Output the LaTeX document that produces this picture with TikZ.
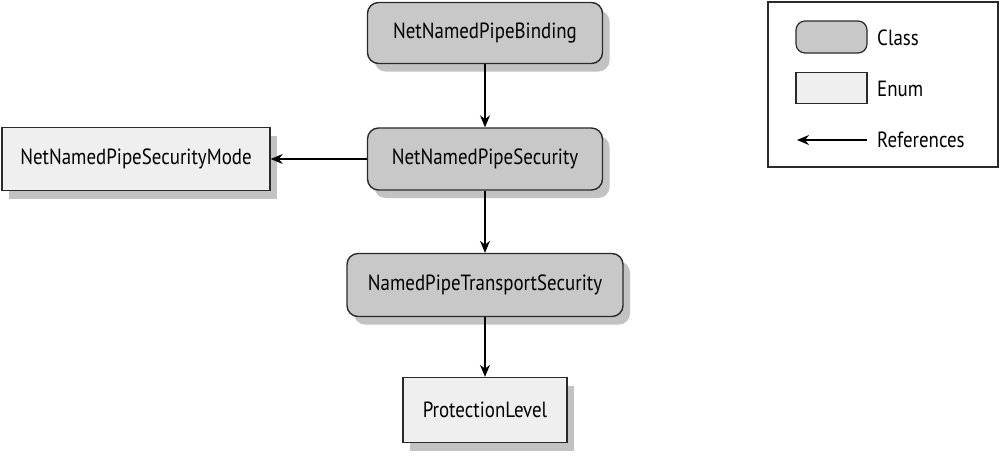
\documentclass[tikz,border=0pt]{standalone}
\usepackage{fontspec}
\setmainfont{PT Sans}[FakeStretch=0.86]
\usetikzlibrary{arrows.meta,shadows,shapes.misc}
\definecolor{classfill}{HTML}{C8C8C8}
\definecolor{enumfill}{HTML}{EFEFEF}
\definecolor{edge}{HTML}{2A2A2A}
\tikzset{
  base/.style={draw=edge, line width=1.4pt, font=\fontsize{22}{26}\selectfont, inner sep=0pt,
    drop shadow={shadow xshift=7pt, shadow yshift=-8pt, opacity=0.4, fill=black!60}},
  classbox/.style={base, fill=classfill, rounded corners=11pt},
  enumbox/.style={base, fill=enumfill},
  ref/.style={-{Stealth[length=12pt,width=10pt]}, line width=1.1pt, black},
  lab/.style={font=\fontsize{22}{26}\selectfont, anchor=west, inner sep=0pt},
}
\begin{document}
\begin{tikzpicture}[x=1pt,y=-1pt]
\useasboundingbox (0,0) rectangle (1000,459);
\node[classbox, minimum width=235pt, minimum height=61pt] (bind) at (485,33) {NetNamedPipeBinding};
\node[classbox, minimum width=235pt, minimum height=62pt] (sec) at (485,159) {NetNamedPipeSecurity};
\node[enumbox, minimum width=268pt, minimum height=63pt] (mode) at (136,159) {NetNamedPipeSecurityMode};
\node[classbox, minimum width=276pt, minimum height=63pt] (trans) at (485,285) {NamedPipeTransportSecurity};
\node[enumbox, minimum width=164pt, minimum height=65pt] (prot) at (485,410) {ProtectionLevel};
\draw[ref] (bind) -- (sec);
\draw[ref] (sec) -- (mode);
\draw[ref] (sec) -- (trans);
\draw[ref] (trans) -- (prot);
% legend
\node[draw=edge, line width=1.2pt, minimum width=230pt, minimum height=165pt, inner sep=0pt] (legend) at (883,84.5) {};
\node[draw=edge, line width=1.2pt, fill=classfill, rounded corners=9pt, minimum width=71pt, minimum height=32pt, inner sep=0pt] (lclass) at (831.5,37) {};
\node[draw=edge, line width=1.2pt, fill=enumfill, minimum width=71pt, minimum height=31pt, inner sep=0pt] (lenum) at (831.5,88) {};
\coordinate (la) at (867,140);
\coordinate (lb) at (797,140);
\draw[ref] (la) -- (lb);
\node[lab] (tclass) at (877,38) {Class};
\node[lab] (tenum) at (877,89) {Enum};
\node[lab] (tref) at (877,140) {References};
\end{tikzpicture}
\end{document}
